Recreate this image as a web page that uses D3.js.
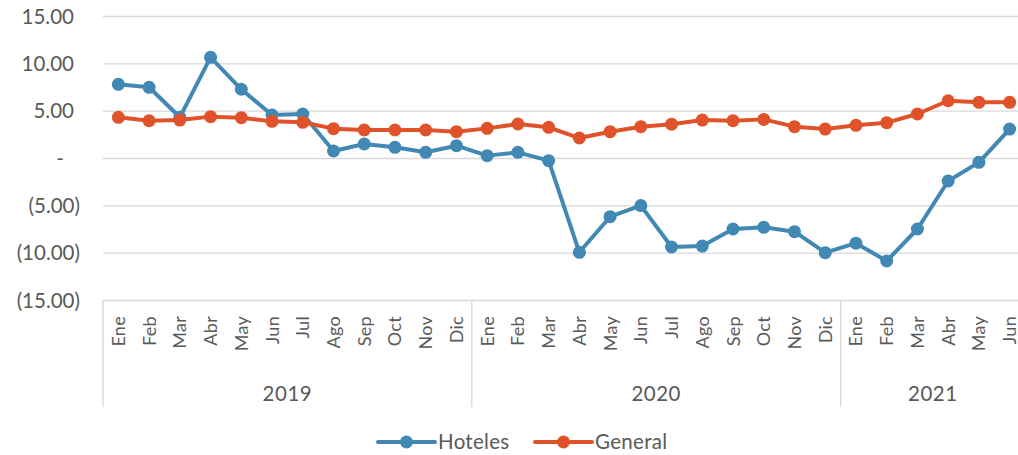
<html>
<head>
<meta charset="UTF-8">
<title>Hoteles vs General</title>
<script src="https://d3js.org/d3.v7.min.js"></script>
<style>
  body { margin: 0; background: #fff; }
  svg text { font-family: Lato, "Open Sans", sans-serif; fill: #595959; }
</style>
</head>
<body>
<svg width="1018" height="455"></svg>
<script>

// values
var months = ["Ene","Feb","Mar","Abr","May","Jun","Jul","Ago","Sep","Oct","Nov","Dic",
              "Ene","Feb","Mar","Abr","May","Jun","Jul","Ago","Sep","Oct","Nov","Dic",
              "Ene","Feb","Mar","Abr","May","Jun"];
var years = [
  {label: "2019", from: 0, to: 12},
  {label: "2020", from: 12, to: 24},
  {label: "2021", from: 24, to: 30}
];
var hoteles = [7.78, 7.47, 4.3, 10.63, 7.26, 4.54, 4.65, 0.74, 1.48, 1.13, 0.6, 1.3,
               0.25, 0.6, -0.28, -9.96, -6.2, -5.03, -9.4, -9.3, -7.5, -7.32, -7.78, -10.0,
               -9.0, -10.88, -7.5, -2.43, -0.46, 3.06];
var general = [4.3, 3.94, 4.01, 4.37, 4.26, 3.87, 3.77, 3.1, 2.96, 2.96, 2.96, 2.78,
               3.13, 3.59, 3.24, 2.11, 2.78, 3.31, 3.57, 4.01, 3.94, 4.08, 3.31, 3.06,
               3.45, 3.73, 4.65, 6.05, 5.88, 5.88];
var yTicks = [-15, -10, -5, 0, 5, 10, 15];

var series = [
  {name: "Hoteles", values: hoteles, color: "#4189b4"},
  {name: "General", values: general, color: "#e0532a"}
];

var svg = d3.select("svg");
var plotLeft = 103, plotRight = 1025, plotTop = 16, plotBottom = 300;

var x = d3.scaleBand()
    .domain(d3.range(months.length))
    .range([plotLeft, plotRight]);

var y = d3.scaleLinear()
    .domain([-15, 15])
    .range([plotBottom, plotTop]);

function fmt(v) {
  if (v === 0) return "-";
  var s = Math.abs(v).toFixed(2);
  return v < 0 ? "(" + s + ")" : s;
}

// y axis + gridlines
var yAxis = svg.append("g")
    .attr("transform", "translate(" + plotLeft + ",0)")
    .call(d3.axisLeft(y).tickValues(yTicks).tickSize(-(plotRight - plotLeft)).tickFormat(fmt));
yAxis.select(".domain").remove();
yAxis.selectAll(".tick line").attr("stroke", "#d9d9d9").attr("stroke-width", 1.3);
yAxis.selectAll(".tick text")
    .attr("font-size", "20.5px")
    .attr("text-anchor", function(d) { return d === 0 ? "middle" : "end"; })
    .attr("x", function(d) { return d === 0 ? -43 : (d < 0 ? -23 : -29); })
    .attr("dy", "0.35em");

// category axis boxes
var cat = svg.append("g");
var sepIdx = [0, 12, 24];
cat.selectAll("line.sep")
  .data(sepIdx)
  .enter().append("line")
    .attr("x1", function(d) { return x(d); })
    .attr("x2", function(d) { return x(d); })
    .attr("y1", plotBottom)
    .attr("y2", 407)
    .attr("stroke", "#d9d9d9")
    .attr("stroke-width", 1.3);

cat.selectAll("text.month")
  .data(months)
  .enter().append("text")
    .attr("class", "month")
    .attr("transform", function(d, i) {
      return "translate(" + (x(i) + x.bandwidth() / 2) + ",316) rotate(-90)";
    })
    .attr("text-anchor", "end")
    .attr("dy", "0.36em")
    .attr("font-size", "18px")
    .attr("letter-spacing", "0.3px")
    .text(function(d) { return d; });

cat.selectAll("text.year")
  .data(years)
  .enter().append("text")
    .attr("class", "year")
    .attr("x", function(d) { return (x(d.from) + (d.to < months.length ? x(d.to) : plotRight)) / 2; })
    .attr("y", 401)
    .attr("text-anchor", "middle")
    .attr("font-size", "20.5px")
    .attr("letter-spacing", "0.5px")
    .text(function(d) { return d.label; });

// lines
var line = d3.line()
    .x(function(d, i) { return x(i) + x.bandwidth() / 2; })
    .y(function(d) { return y(d); });

series.forEach(function(s) {
  var g = svg.append("g");
  g.append("path")
    .datum(s.values)
    .attr("fill", "none")
    .attr("stroke", s.color)
    .attr("stroke-width", 4)
    .attr("stroke-linejoin", "round")
    .attr("d", line);
  g.selectAll("circle")
    .data(s.values)
    .enter().append("circle")
      .attr("cx", function(d, i) { return x(i) + x.bandwidth() / 2; })
      .attr("cy", function(d) { return y(d); })
      .attr("r", 6.5)
      .attr("fill", s.color);
});

// legend
var legendX = [378, 535];
var lg = svg.append("g");
series.forEach(function(s, i) {
  var lx = legendX[i];
  lg.append("line")
    .attr("x1", lx).attr("x2", lx + 57)
    .attr("y1", 442).attr("y2", 442)
    .attr("stroke", s.color)
    .attr("stroke-width", 4)
    .attr("stroke-linecap", "round");
  lg.append("circle")
    .attr("cx", lx + 28.5).attr("cy", 442)
    .attr("r", 6.5)
    .attr("fill", s.color);
  lg.append("text")
    .attr("x", lx + 60)
    .attr("y", 449)
    .attr("font-size", "20.5px")
    .attr("letter-spacing", "0.3px")
    .text(s.name);
});

</script>
</body>
</html>
